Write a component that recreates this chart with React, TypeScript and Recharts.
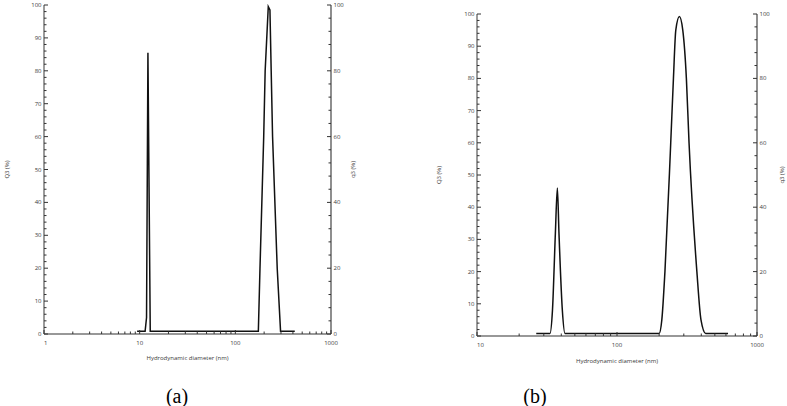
import React from 'react';
import { LineChart, Line, XAxis, YAxis } from 'recharts';

// (a) volume distribution, two peaks
const sizesA = [9.4, 11.4, 11.8, 12.2, 12.9, 174, 181, 198, 205, 221, 230, 237, 245, 274, 297, 418];
const q3A = [0.8, 0.8, 5, 85.5, 0.8, 0.8, 20, 60, 80, 99.5, 98.5, 80, 60, 20, 0.8, 0.8];

// (b)
const sizesB = [26.5, 33.2, 34.6, 36.3, 37.5, 38.5, 40.7, 42.5, 200, 209, 220, 242, 253, 263, 279, 295, 313, 327, 372, 398, 430, 621];
const q3B = [0.8, 0.8, 8, 32, 46, 32, 8, 0.8, 0.8, 5, 20, 60, 80, 95, 99.2, 95, 80, 60, 20, 5, 0.8, 0.8];

const xTicksA = [1, 2, 3, 4, 5, 6, 7, 8, 9, 10, 20, 30, 40, 50, 60, 70, 80, 90, 100, 200, 300, 400, 500, 600, 700, 800, 900, 1000];
const xTicksB = [10, 20, 30, 40, 50, 60, 70, 80, 90, 100, 200, 300, 400, 500, 600, 700, 800, 900, 1000];
const xLabels = [1, 10, 100, 1000];

const leftTicks = [0, 2, 4, 6, 8, 10, 12, 14, 16, 18, 20, 22, 24, 26, 28, 30, 32, 34, 36, 38, 40, 42, 44, 46, 48, 50, 52, 54, 56, 58, 60, 62, 64, 66, 68, 70, 72, 74, 76, 78, 80, 82, 84, 86, 88, 90, 92, 94, 96, 98, 100];
const leftLabels = [0, 10, 20, 30, 40, 50, 60, 70, 80, 90, 100];
const rightTicks = [0, 4, 8, 12, 16, 20, 24, 28, 32, 36, 40, 44, 48, 52, 56, 60, 64, 68, 72, 76, 80, 84, 88, 92, 96, 100];
const rightLabels = [0, 20, 40, 60, 80, 100];

const FONT = '"Open Sans", sans-serif';
const TXT = '#3a3a3a';

const dataA = sizesA.map((d, i) => ({ d, q: q3A[i] }));
const dataB = sizesB.map((d, i) => ({ d, q: q3B[i] }));

function makeTick(side: 'bottom' | 'left' | 'right', labels: number[], firstValue?: number) {
  return (props: any) => {
    const { x, y, payload } = props;
    const v = payload.value;
    const major = labels.includes(v);
    const len = major ? 4 : 2.5;
    if (side === 'bottom') {
      return (
        <g>
          <line x1={x} x2={x} y1={y} y2={y - len} stroke="#333" strokeWidth={1} />
          {major && (
            <text x={x} y={y + 10.5} textAnchor={v === firstValue ? 'start' : 'middle'} fontSize={6} fontFamily={FONT} fill={TXT}>
              {v}
            </text>
          )}
        </g>
      );
    }
    if (side === 'left') {
      return (
        <g>
          <line x1={x} x2={x + len} y1={y} y2={y} stroke="#333" strokeWidth={1} />
          {major && (
            <text x={x - 2.5} y={y + 2} textAnchor="end" fontSize={6} fontFamily={FONT} fill={TXT}>
              {v}
            </text>
          )}
        </g>
      );
    }
    return (
      <g>
        <line x1={x} x2={x - len} y1={y} y2={y} stroke="#333" strokeWidth={1} />
        {major && (
          <text x={x + 2.5} y={y + 2} textAnchor="start" fontSize={6} fontFamily={FONT} fill={TXT}>
            {v}
          </text>
        )}
      </g>
    );
  };
}

const vTitle = (text: string, dx: number) => (p: any) => {
  const vb = p.viewBox;
  const cx = vb.x + dx;
  const cy = vb.y + vb.height / 2;
  return (
    <text x={cx} y={cy} transform={`rotate(-90, ${cx}, ${cy})`} textAnchor="middle" dominantBaseline="central" fontSize={6} fontFamily={FONT} fill={TXT}>
      {text}
    </text>
  );
};

const xTitle = (dy: number) => (p: any) => {
  const vb = p.viewBox;
  return (
    <text x={vb.x + vb.width / 2} y={vb.y + dy} textAnchor="middle" fontSize={6} fontFamily={FONT} fill={TXT}>
      Hydrodynamic diameter (nm)
    </text>
  );
};

type PanelProps = {
  data: { d: number; q: number }[];
  width: number;
  height: number;
  top: number;
  leftW: number;
  rightW: number;
  xH: number;
  domain: [number, number];
  xTicks: number[];
  curve: 'linear' | 'monotone';
  leftTitleX: number;
  rightTitleX: number;
  xTitleY: number;
};

const Panel = (p: PanelProps) => (
  <LineChart width={p.width} height={p.height} data={p.data} margin={{ top: p.top, right: 0, bottom: 0, left: 0 }}>
    <XAxis
      xAxisId="top"
      orientation="top"
      dataKey="d"
      type="number"
      scale="log"
      domain={p.domain}
      allowDataOverflow
      height={0}
      tick={false}
      tickLine={false}
      axisLine={{ stroke: '#6e6e6e', strokeWidth: 1.5 }}
    />
    <XAxis
      dataKey="d"
      type="number"
      scale="log"
      domain={p.domain}
      allowDataOverflow
      ticks={p.xTicks}
      interval={0}
      height={p.xH}
      tickSize={0}
      tickMargin={0}
      tickLine={false}
      tick={makeTick('bottom', xLabels, p.domain[0])}
      axisLine={{ stroke: '#333', strokeWidth: 1.2 }}
      label={xTitle(p.xTitleY)}
    />
    <YAxis
      yAxisId="left"
      domain={[0, 100]}
      ticks={leftTicks}
      interval={0}
      width={p.leftW}
      tickSize={0}
      tickMargin={0}
      tickLine={false}
      tick={makeTick('left', leftLabels)}
      axisLine={{ stroke: '#7a7a7a', strokeWidth: 1.5 }}
      label={vTitle('Q3 (%)', p.leftTitleX)}
    />
    <YAxis
      yAxisId="right"
      orientation="right"
      domain={[0, 100]}
      ticks={rightTicks}
      interval={0}
      width={p.rightW}
      tickSize={0}
      tickMargin={0}
      tickLine={false}
      tick={makeTick('right', rightLabels)}
      axisLine={{ stroke: '#444', strokeWidth: 1.2 }}
      label={vTitle('q3 (%)', p.rightTitleX)}
    />
    <Line
      yAxisId="left"
      type={p.curve}
      dataKey="q"
      stroke="#111"
      strokeWidth={1.5}
      dot={false}
      isAnimationActive={false}
    />
    {/* same curve read on the q3 axis; drawn invisibly so the right axis gets its ticks */}
    <Line
      yAxisId="right"
      type={p.curve}
      dataKey="q"
      stroke="none"
      dot={false}
      activeDot={false}
      legendType="none"
      isAnimationActive={false}
    />
  </LineChart>
);

const caption: React.CSSProperties = {
  position: 'absolute',
  fontFamily: '"Liberation Serif", "Times New Roman", serif',
  fontSize: 20,
  color: '#000',
  transform: 'translateX(-50%)',
  lineHeight: '22px',
};

export default function App() {
  return (
    <div style={{ position: 'absolute', left: 0, top: 0, width: 787, height: 406, background: '#fff', overflow: 'hidden' }}>
      <div style={{ position: 'absolute', left: 0, top: 0 }}>
        <Panel
          data={dataA}
          width={390}
          height={362}
          top={5}
          leftW={44}
          rightW={59}
          xH={28}
          domain={[1, 1000]}
          xTicks={xTicksA}
          curve="linear"
          leftTitleX={7}
          rightTitleX={22}
          xTitleY={26}
        />
      </div>
      <div style={{ position: 'absolute', left: 400, top: 0 }}>
        <Panel
          data={dataB}
          width={387}
          height={366}
          top={14}
          leftW={77}
          rightW={30}
          xH={30}
          domain={[10, 1000]}
          xTicks={xTicksB}
          curve="monotone"
          leftTitleX={39}
          rightTitleX={25}
          xTitleY={27}
        />
      </div>
      <div style={{ ...caption, left: 177, top: 385 }}>(a)</div>
      <div style={{ ...caption, left: 535, top: 385 }}>(b)</div>
    </div>
  );
}
